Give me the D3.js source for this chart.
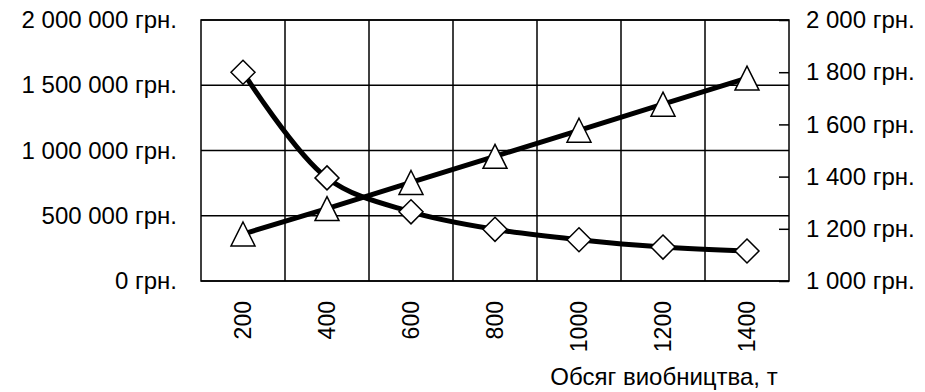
<!DOCTYPE html>
<html>
<head>
<meta charset="utf-8">
<script src="https://cdn.jsdelivr.net/npm/d3@7"></script>
<style>
  html, body { margin: 0; padding: 0; background: #fff; }
  svg { display: block; }
</style>
</head>
<body>
<div id="chart"></div>
<script>
// Data
const volumes = ["200", "400", "600", "800", "1000", "1200", "1400"];
const totalCost = [360000, 555000, 755000, 955000, 1155000, 1355000, 1555000]; // triangles, left axis
const unitCost = [1800, 1395, 1265, 1198, 1158, 1130, 1115];                   // diamonds, right axis
const leftTicks = [0, 500000, 1000000, 1500000, 2000000];
const rightTicks = [1000, 1200, 1400, 1600, 1800, 2000];
const xTitle = "Обсяг виобництва, т";

const width = 925, height = 392;
const margin = { top: 20, right: 136, bottom: 111, left: 201 };
const innerWidth = width - margin.left - margin.right;
const innerHeight = height - margin.top - margin.bottom;
const fontFamily = "'Liberation Sans', Arial, sans-serif";
const fontSize = 24;

// space as thousands separator, e.g. "2 000 000 грн."
const fmt = d => d3.format(",")(d).replace(/,/g, " ") + " грн.";

const svg = d3.select("#chart").append("svg")
  .attr("width", width)
  .attr("height", height)
  .attr("font-family", fontFamily);

const g = svg.append("g")
  .attr("transform", `translate(${margin.left},${margin.top})`);

const xScale = d3.scaleBand()
  .domain(volumes)
  .range([0, innerWidth])
  .padding(0);

const yLeft = d3.scaleLinear()
  .domain([0, 2000000])
  .range([innerHeight, 0]);

const yRight = d3.scaleLinear()
  .domain([1000, 2000])
  .range([innerHeight, 0]);

// horizontal grid
g.append("g")
  .selectAll("line")
  .data(leftTicks)
  .join("line")
  .attr("x1", 0).attr("x2", innerWidth)
  .attr("y1", d => yLeft(d)).attr("y2", d => yLeft(d))
  .attr("stroke", "#000").attr("stroke-width", 1.5);

// vertical grid at category boundaries
g.append("g")
  .selectAll("line")
  .data(volumes.slice(1))
  .join("line")
  .attr("x1", d => xScale(d)).attr("x2", d => xScale(d))
  .attr("y1", 0).attr("y2", innerHeight)
  .attr("stroke", "#000").attr("stroke-width", 1.5);

// plot border
g.append("rect")
  .attr("width", innerWidth).attr("height", innerHeight)
  .attr("fill", "none").attr("stroke", "#000").attr("stroke-width", 1.5);

// left axis labels
const leftAxis = g.append("g")
  .call(d3.axisLeft(yLeft).tickValues(leftTicks).tickFormat(fmt).tickSize(0).tickPadding(24))
  .attr("font-family", fontFamily)
  .attr("font-size", fontSize);
leftAxis.select(".domain").remove();
leftAxis.selectAll("text").attr("fill", "#000");

// right axis: inner ticks + labels
const rightAxis = g.append("g")
  .attr("transform", `translate(${innerWidth},0)`)
  .call(d3.axisRight(yRight).tickValues(rightTicks).tickFormat(fmt).tickSizeInner(-10).tickSizeOuter(0).tickPadding(17))
  .attr("font-family", fontFamily)
  .attr("font-size", fontSize);
rightAxis.select(".domain").remove();
rightAxis.selectAll("line").attr("stroke", "#000").attr("stroke-width", 1.5);
rightAxis.selectAll("text").attr("fill", "#000");

// x labels, rotated
g.append("g")
  .selectAll("text")
  .data(volumes)
  .join("text")
  .attr("transform", d => `translate(${xScale(d) + xScale.bandwidth() / 2},${innerHeight + 20}) rotate(-90)`)
  .attr("text-anchor", "end")
  .attr("dy", "0.36em")
  .attr("font-size", 23)
  .text(d => d);

// x title
svg.append("text")
  .attr("x", 664)
  .attr("y", 385)
  .attr("text-anchor", "middle")
  .attr("font-size", fontSize)
  .text(xTitle);

const cx = d => xScale(d) + xScale.bandwidth() / 2;

// total cost line (straight)
const lineLeft = d3.line()
  .x((d, i) => cx(volumes[i]))
  .y(d => yLeft(d));

g.append("path")
  .datum(totalCost)
  .attr("fill", "none")
  .attr("stroke", "#000")
  .attr("stroke-width", 5)
  .attr("d", lineLeft);

// unit cost line (smoothed)
const lineRight = d3.line()
  .x((d, i) => cx(volumes[i]))
  .y(d => yRight(d))
  .curve(d3.curveCatmullRom.alpha(0.5));

g.append("path")
  .datum(unitCost)
  .attr("fill", "none")
  .attr("stroke", "#000")
  .attr("stroke-width", 5)
  .attr("d", lineRight);

// triangle markers
const tri = 12;
g.append("g")
  .selectAll("path")
  .data(totalCost)
  .join("path")
  .attr("transform", (d, i) => `translate(${cx(volumes[i])},${yLeft(d)})`)
  .attr("d", `M0,${-tri}L${tri},${tri}L${-tri},${tri}Z`)
  .attr("fill", "#fff")
  .attr("stroke", "#000")
  .attr("stroke-width", 1.5);

// diamond markers
const dia = 12;
g.append("g")
  .selectAll("path")
  .data(unitCost)
  .join("path")
  .attr("transform", (d, i) => `translate(${cx(volumes[i])},${yRight(d)})`)
  .attr("d", `M0,${-dia}L${dia},0L0,${dia}L${-dia},0Z`)
  .attr("fill", "#fff")
  .attr("stroke", "#000")
  .attr("stroke-width", 1.5);
</script>
</body>
</html>
